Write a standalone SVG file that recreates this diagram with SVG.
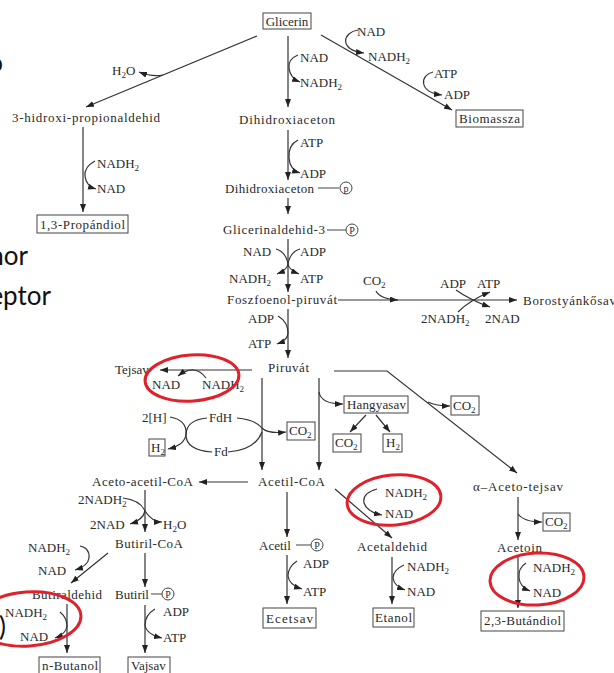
<svg xmlns="http://www.w3.org/2000/svg" width="614" height="673" viewBox="0 0 614 673">
<style>
.t{font-family:"Liberation Serif","Times New Roman",serif;font-size:13px;fill:#2a2a2a}
.m{text-anchor:middle}
.sub{font-size:9px}
.p{font-family:"Liberation Serif",serif;font-size:10px;fill:#2a2a2a;text-anchor:middle}
.box{fill:#fff;stroke:#444;stroke-width:1}
.pc{fill:none;stroke:#444;stroke-width:1}
.c{fill:none;stroke:#333;stroke-width:1.2}
.a{marker-end:url(#ah)}
.red{fill:none;stroke:#e0212b;stroke-width:3}
.slide{font-family:Lato,"Open Sans",sans-serif;font-size:26px;fill:#111}
</style>
<defs>
<marker id="ah" viewBox="0 0 8 6" refX="8" refY="3" markerWidth="8" markerHeight="6" markerUnits="userSpaceOnUse" orient="auto"><path d="M0,0 L8,3 L0,6 Z" fill="#222"/></marker>
</defs>
<rect width="614" height="673" fill="#fff"/>

<g id="slide-fragments">
<text class="slide" x="3" y="72" text-anchor="end">o</text>
<text class="slide" x="28" y="265" text-anchor="end">nor</text>
<text class="slide" x="51" y="305" text-anchor="end">eptor</text>
<text class="slide" x="6" y="636" text-anchor="end">)</text>
</g>

<g id="connectors">
<path class="c a" d="M288,36 L288,107"/>
<path class="c a" d="M298,55 Q288,59 289,68 Q290,78 300,82"/>
<path class="c a" d="M257,36 L86,107"/>
<path class="c a" d="M163,75 Q152,77 139,72"/>
<path class="c a" d="M83,127 L83,212"/>
<path class="c a" d="M95,161 Q84,167 85,176 Q86,186 96,189"/>
<path class="c a" d="M321,35 L452,110"/>
<path class="c a" d="M358,30 C343,32 338,50 364,53"/>
<path class="c a" d="M433,72 C420,75 418,92 442,95"/>
<path class="c a" d="M288,130 L288,180"/>
<path class="c a" d="M298,140 Q288,145 289,158 Q290,170 300,173"/>
<path class="c a" d="M288,198 L288,214"/>
<path class="c a" d="M288,239 L288,292"/>
<path class="c" d="M276,249 Q286,252 288,264"/>
<path class="c" d="M300,249 Q290,252 288,264"/>
<path class="c a" d="M288,264 Q287,270 277,274"/>
<path class="c a" d="M288,264 Q289,270 299,274"/>
<path class="c a" d="M338,300 L517,300"/>
<path class="c a" d="M376,291 Q380,299 398,300"/>
<path class="c a" d="M456,290 Q470,300 490,307"/>
<path class="c a" d="M458,312 Q470,300 490,292"/>
<path class="c a" d="M288,309 L288,358"/>
<path class="c a" d="M278,316 Q288,322 288,333 Q288,340 277,344"/>
<path class="c a" d="M252,370 L160,370"/>
<path class="c a" d="M206,378 Q195,363 178,376"/>
<path class="c a" d="M262,378 L262,470"/>
<path class="c a" d="M319,378 L319,470"/>
<path class="c a" d="M319,392 Q321,404 343,404"/>
<path class="c a" d="M366,415 L350,432"/>
<path class="c a" d="M376,415 L390,432"/>
<path class="c a" d="M334,371 L387,371 L517,473"/>
<path class="c a" d="M428,402 Q436,406 450,406"/>
<path class="c a" d="M170,417 Q187,420 186,434 Q185,445 168,449"/>
<path class="c" d="M207,418 Q186,420 186,435 Q186,450 212,452"/>
<path class="c a" d="M237,418 Q256,420 262,428 Q268,434 286,432"/>
<path class="c" d="M228,452 Q255,450 262,432"/>
<path class="c a" d="M248,482 L199,482"/>
<path class="c a" d="M335,489 L392,538"/>
<path class="c a" d="M377,489 Q362,493 364,503 Q367,512 382,515"/>
<path class="c a" d="M287,492 L287,537"/>
<path class="c a" d="M287,555 L287,604"/>
<path class="c a" d="M297,561 Q288,567 288,576 Q289,585 302,589"/>
<path class="c a" d="M392,557 L392,604"/>
<path class="c a" d="M404,565 Q393,570 393,578 Q394,586 405,590"/>
<path class="c a" d="M518,497 L518,540"/>
<path class="c a" d="M518,514 Q524,522 542,522"/>
<path class="c a" d="M518,556 L518,608"/>
<path class="c a" d="M526,563 Q518,568 519,578 Q520,587 530,591"/>
<path class="c a" d="M145,490 L145,532"/>
<path class="c" d="M123,498 Q140,500 145,511"/>
<path class="c a" d="M145,511 Q143,520 130,524"/>
<path class="c a" d="M145,511 Q152,522 162,522"/>
<path class="c a" d="M108,553 L71,583"/>
<path class="c a" d="M80,546 Q90,548 89,558 Q88,566 75,570"/>
<path class="c a" d="M145,553 L145,587"/>
<path class="c a" d="M145,605 L145,653"/>
<path class="c a" d="M155,609 Q145,615 145,625 Q146,634 162,638"/>
<path class="c a" d="M67,604 L67,653"/>
<path class="c a" d="M60,612 Q67,618 67,626 Q66,634 55,638"/>
</g>

<g id="glicerin"><rect class="box" x="263" y="13" width="48" height="16"/><text class="t m" x="287" y="26">Glicerin</text></g>
<g id="glicerin-cof"><text class="t" x="300" y="62">NAD</text><text class="t" x="300" y="87">NADH<tspan class="sub" dy="3">2</tspan></text></g>
<g id="h2o-top"><text class="t" x="112" y="75">H<tspan class="sub" dy="3">2</tspan><tspan dy="-3">O</tspan></text></g>
<g id="hidroxi"><text class="t" x="12" y="122" textLength="148" lengthAdjust="spacing">3-hidroxi-propionaldehid</text></g>
<g id="hidroxi-cof"><text class="t" x="97" y="168">NADH<tspan class="sub" dy="3">2</tspan></text><text class="t" x="97" y="193">NAD</text></g>
<g id="propandiol"><rect class="box" x="37" y="215" width="91" height="18"/><text class="t" x="40" y="229" textLength="85" lengthAdjust="spacing">1,3-Propándiol</text></g>
<g id="biomassza-cof"><text class="t" x="357" y="36">NAD</text><text class="t" x="368" y="61">NADH<tspan class="sub" dy="3">2</tspan></text><text class="t" x="434" y="78">ATP</text><text class="t" x="444" y="99">ADP</text></g>
<g id="biomassza"><rect class="box" x="456" y="110" width="67" height="17"/><text class="t" x="459" y="123" textLength="61" lengthAdjust="spacing">Biomassza</text></g>
<g id="dihidroxiaceton"><text class="t" x="239" y="124" textLength="96" lengthAdjust="spacing">Dihidroxiaceton</text></g>
<g id="dha-cof"><text class="t" x="300" y="147">ATP</text><text class="t" x="300" y="178">ADP</text></g>
<g id="dhap"><text class="t" x="225" y="193" textLength="89" lengthAdjust="spacing">Dihidroxiaceton</text><line class="pc" x1="318" y1="188" x2="339" y2="188"/><circle class="pc" cx="346" cy="188" r="6"/><text class="p" x="346" y="191.5">p</text></g>
<g id="gap"><text class="t" x="223" y="234" textLength="102" lengthAdjust="spacing">Glicerinaldehid-3</text><line class="pc" x1="327" y1="230" x2="346" y2="230"/><circle class="pc" cx="352" cy="230" r="6"/><text class="p" x="352" y="233.5">P</text></g>
<g id="gap-cof"><text class="t" x="243" y="256">NAD</text><text class="t" x="300" y="256">ADP</text><text class="t" x="229" y="283">NADH<tspan class="sub" dy="3">2</tspan></text><text class="t" x="300" y="283">ATP</text></g>
<g id="pep"><text class="t" x="227" y="304" textLength="110" lengthAdjust="spacing">Foszfoenol-piruvát</text></g>
<g id="succ-cof"><text class="t" x="363" y="285">CO<tspan class="sub" dy="3">2</tspan></text><text class="t" x="440" y="288">ADP</text><text class="t" x="477" y="288">ATP</text><text class="t" x="421" y="323">2NADH<tspan class="sub" dy="3">2</tspan></text><text class="t" x="485" y="323">2NAD</text></g>
<g id="borostyankosav"><text class="t" x="523" y="305" textLength="93" lengthAdjust="spacing">Borostyánkősav</text></g>
<g id="pep-cof"><text class="t" x="248" y="323">ADP</text><text class="t" x="248" y="348">ATP</text></g>
<g id="piruvat"><text class="t" x="268" y="372" textLength="41" lengthAdjust="spacing">Piruvát</text></g>
<g id="tejsav"><text class="t" x="115" y="374">Tejsav</text></g>
<g id="tejsav-cof"><text class="t" x="152" y="389">NAD</text><text class="t" x="202" y="389">NADH<tspan class="sub" dy="3">2</tspan></text></g>
<g id="fd-cycle"><text class="t" x="142" y="422">2[H]</text><text class="t" x="209" y="422">FdH</text><text class="t" x="214" y="456">Fd</text></g>
<g id="h2-fd"><rect class="box" x="149" y="439" width="16" height="17"/><text class="t" x="151" y="452">H<tspan class="sub" dy="3">2</tspan></text></g>
<g id="co2-fd"><rect class="box" x="287" y="422" width="28" height="18"/><text class="t" x="289" y="435">CO<tspan class="sub" dy="3">2</tspan></text></g>
<g id="hangyasav"><rect class="box" x="344" y="396" width="64" height="17"/><text class="t" x="347" y="409" textLength="59" lengthAdjust="spacing">Hangyasav</text></g>
<g id="co2-hangya"><rect class="box" x="333" y="434" width="28" height="18"/><text class="t" x="335" y="447">CO<tspan class="sub" dy="3">2</tspan></text></g>
<g id="h2-hangya"><rect class="box" x="383" y="434" width="19" height="18"/><text class="t" x="386" y="447">H<tspan class="sub" dy="3">2</tspan></text></g>
<g id="co2-right"><rect class="box" x="451" y="396" width="28" height="19"/><text class="t" x="453" y="410">CO<tspan class="sub" dy="3">2</tspan></text></g>
<g id="acetil-coa"><text class="t" x="258" y="486" textLength="67" lengthAdjust="spacing">Acetil-CoA</text></g>
<g id="aceto-acetil-coa"><text class="t" x="92" y="486" textLength="101" lengthAdjust="spacing">Aceto-acetil-CoA</text></g>
<g id="acetaldehid-cof"><text class="t" x="385" y="497">NADH<tspan class="sub" dy="3">2</tspan></text><text class="t" x="385" y="518">NAD</text></g>
<g id="alpha-aceto-tejsav"><text class="t" x="473" y="491" textLength="90" lengthAdjust="spacing">α–Aceto-tejsav</text></g>
<g id="co2-aceto"><rect class="box" x="543" y="513" width="27" height="18"/><text class="t" x="545" y="526">CO<tspan class="sub" dy="3">2</tspan></text></g>
<g id="acetil-p"><text class="t" x="259" y="550">Acetil</text><line class="pc" x1="296" y1="545" x2="311" y2="545"/><circle class="pc" cx="317" cy="545" r="6"/><text class="p" x="317" y="548.5">P</text></g>
<g id="acetil-p-cof"><text class="t" x="303" y="568">ADP</text><text class="t" x="303" y="596">ATP</text></g>
<g id="ecetsav"><rect class="box" x="263" y="608" width="53" height="20"/><text class="t" x="266" y="623" textLength="47" lengthAdjust="spacing">Ecetsav</text></g>
<g id="acetaldehid"><text class="t" x="357" y="551" textLength="70" lengthAdjust="spacing">Acetaldehid</text></g>
<g id="etanol-cof"><text class="t" x="407" y="571">NADH<tspan class="sub" dy="3">2</tspan></text><text class="t" x="407" y="596">NAD</text></g>
<g id="etanol"><rect class="box" x="373" y="608" width="41" height="19"/><text class="t" x="375" y="622" textLength="37" lengthAdjust="spacing">Etanol</text></g>
<g id="acetoin"><text class="t" x="497" y="552" textLength="45" lengthAdjust="spacing">Acetoin</text></g>
<g id="acetoin-cof"><text class="t" x="533" y="572">NADH<tspan class="sub" dy="3">2</tspan></text><text class="t" x="533" y="597">NAD</text></g>
<g id="butandiol"><rect class="box" x="481" y="611" width="83" height="20"/><text class="t" x="484" y="625" textLength="77" lengthAdjust="spacing">2,3-Butándiol</text></g>
<g id="aceto-acetil-cof"><text class="t" x="78" y="504">2NADH<tspan class="sub" dy="3">2</tspan></text><text class="t" x="90" y="529">2NAD</text><text class="t" x="163" y="529">H<tspan class="sub" dy="3">2</tspan><tspan dy="-3">O</tspan></text></g>
<g id="butiril-coa"><text class="t" x="115" y="548" textLength="68" lengthAdjust="spacing">Butiril-CoA</text></g>
<g id="butiraldehid-cof"><text class="t" x="28" y="552">NADH<tspan class="sub" dy="3">2</tspan></text><text class="t" x="38" y="575">NAD</text></g>
<g id="butiraldehid"><text class="t" x="32" y="599" textLength="70" lengthAdjust="spacing">Butiraldehid</text></g>
<g id="butiril-p"><text class="t" x="115" y="599">Butiril</text><line class="pc" x1="151" y1="594" x2="162" y2="594"/><circle class="pc" cx="168" cy="594" r="6"/><text class="p" x="168" y="597.5">P</text></g>
<g id="butiril-p-cof"><text class="t" x="163" y="616">ADP</text><text class="t" x="163" y="642">ATP</text></g>
<g id="butanol-cof"><text class="t" x="5" y="617">NADH<tspan class="sub" dy="3">2</tspan></text><text class="t" x="20" y="641">NAD</text></g>
<g id="n-butanol"><rect class="box" x="39" y="657" width="61" height="18"/><text class="t" x="42" y="670" textLength="56" lengthAdjust="spacing">n-Butanol</text></g>
<g id="vajsav"><rect class="box" x="128" y="657" width="42" height="18"/><text class="t" x="131" y="670">Vajsav</text></g>

<g id="highlights">
<ellipse class="red" cx="192" cy="378" rx="47" ry="23" transform="rotate(-4 192 378)"/>
<ellipse class="red" cx="394" cy="500" rx="47" ry="25" transform="rotate(-5 394 500)"/>
<ellipse class="red" cx="537" cy="579" rx="47" ry="26" transform="rotate(-3 537 579)"/>
<ellipse class="red" cx="28" cy="619" rx="53" ry="27" transform="rotate(-4 28 619)"/>
</g>
</svg>
